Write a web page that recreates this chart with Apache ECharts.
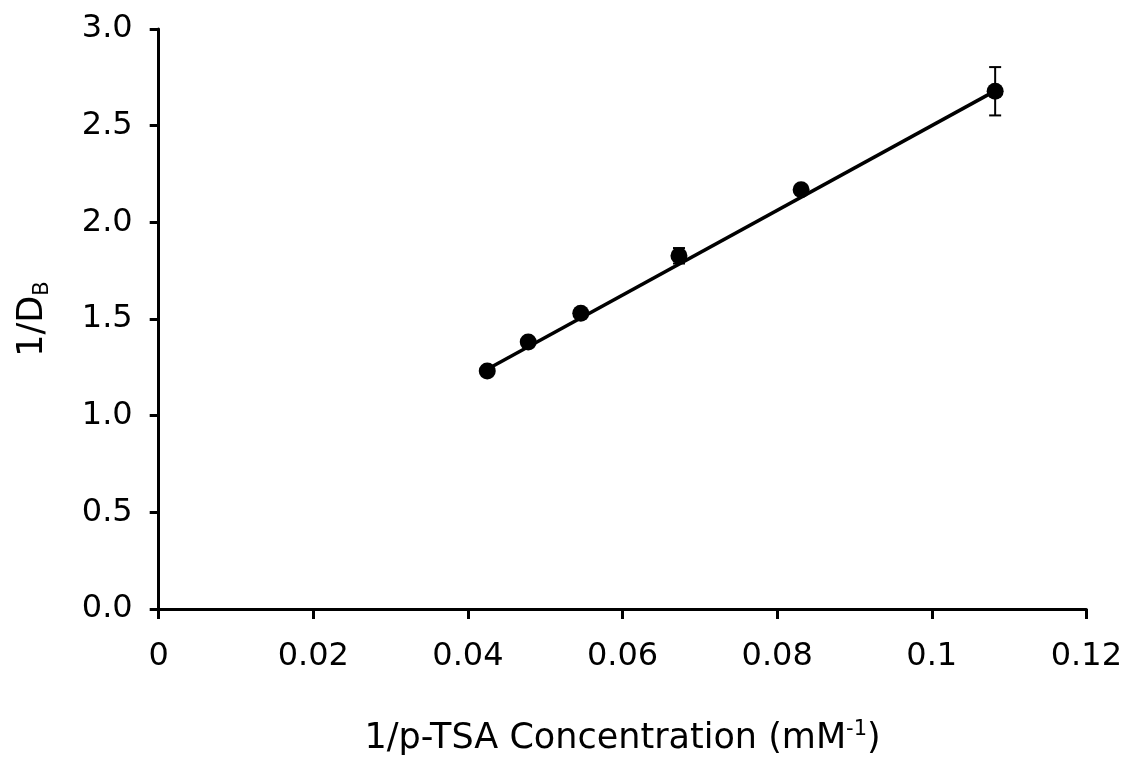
<!DOCTYPE html>
<html lang="en">
<head>
<meta charset="UTF-8">
<title>1/DB vs 1/p-TSA</title>
<script src="https://cdn.jsdelivr.net/npm/echarts@6/dist/echarts.min.js"></script>
<style>
  html, body { margin: 0; padding: 0; background: #fff; }
  #main { width: 1125px; height: 761px; }
</style>
</head>
<body>
<div id="main"></div>
<script type="text/javascript">
var invConc = [0.0425, 0.0478, 0.0546, 0.0673, 0.0831, 0.1082];
var invDB   = [1.231, 1.381, 1.530, 1.827, 2.168, 2.678];
var errDB   = [0.01, 0.01, 0.01, 0.04, 0.02, 0.125];
// fitted line end points
var fitX = [0.0425, 0.1082];
var fitY = [1.240, 2.680];
var xTicks = [0, 0.02, 0.04, 0.06, 0.08, 0.1, 0.12];
var yTicks = [0, 0.5, 1.0, 1.5, 2.0, 2.5, 3.0];

var pts = invConc.map(function (x, i) { return [x, invDB[i]]; });
var bars = invConc.map(function (x, i) { return [x, invDB[i] - errDB[i], invDB[i] + errDB[i]]; });
var fit = fitX.map(function (x, i) { return [x, fitY[i]]; });

var font = 'DejaVu Sans';
var chart = echarts.init(document.getElementById('main'));
chart.setOption({
  animation: false,
  grid: { left: 158.7, right: 37.7, top: 29, bottom: 137 },
  xAxis: {
    type: 'value',
    min: xTicks[0], max: xTicks[xTicks.length - 1], interval: 0.02,
    splitLine: { show: false },
    axisLine: { lineStyle: { color: '#000', width: 3 } },
    axisTick: { inside: false, length: 10, lineStyle: { color: '#000', width: 3 } },
    axisLabel: { color: '#000', fontFamily: font, fontSize: 32, margin: 32 },
    name: '{n|1/p-TSA Concentration (mM}{sup|-1}{n|)}',
    nameLocation: 'middle',
    nameGap: 110,
    nameTextStyle: {
      rich: {
        n: { fontFamily: font, fontSize: 35, color: '#000' },
        sup: { fontFamily: font, fontSize: 21, color: '#000', verticalAlign: 'top', padding: [0, 0, 18, 0] }
      }
    }
  },
  yAxis: {
    type: 'value',
    min: yTicks[0], max: yTicks[yTicks.length - 1], interval: 0.5,
    splitLine: { show: false },
    axisLine: { show: true, lineStyle: { color: '#000', width: 3 } },
    axisTick: { show: true, inside: false, length: 9, lineStyle: { color: '#000', width: 3 } },
    axisLabel: { color: '#000', fontFamily: font, fontSize: 32, margin: 26,
      formatter: function (v) { return v.toFixed(1); } },
    name: '{n|1/D}{sub|B}',
    nameLocation: 'middle',
    nameGap: 106,
    nameTextStyle: {
      rich: {
        n: { fontFamily: font, fontSize: 35, color: '#000' },
        sub: { fontFamily: font, fontSize: 21, color: '#000', verticalAlign: 'bottom', padding: [18, 0, 0, 0] }
      }
    }
  },
  series: [
    {
      type: 'line',
      data: fit,
      symbol: 'none',
      lineStyle: { color: '#000', width: 3.5 },
      z: 2
    },
    {
      type: 'custom',
      data: bars,
      renderItem: function (params, api) {
        var x = api.value(0);
        var lo = api.coord([x, api.value(1)]);
        var hi = api.coord([x, api.value(2)]);
        var cap = 6;
        var st = { stroke: '#000', lineWidth: 2 };
        return {
          type: 'group',
          children: [
            { type: 'line', shape: { x1: lo[0], y1: lo[1], x2: hi[0], y2: hi[1] }, style: st },
            { type: 'line', shape: { x1: lo[0] - cap, y1: lo[1], x2: lo[0] + cap, y2: lo[1] }, style: st },
            { type: 'line', shape: { x1: hi[0] - cap, y1: hi[1], x2: hi[0] + cap, y2: hi[1] }, style: st }
          ]
        };
      },
      z: 3
    },
    {
      type: 'scatter',
      data: pts,
      symbol: 'circle',
      symbolSize: 17,
      itemStyle: { color: '#000', opacity: 1 },
      z: 4
    }
  ]
});
</script>
</body>
</html>
